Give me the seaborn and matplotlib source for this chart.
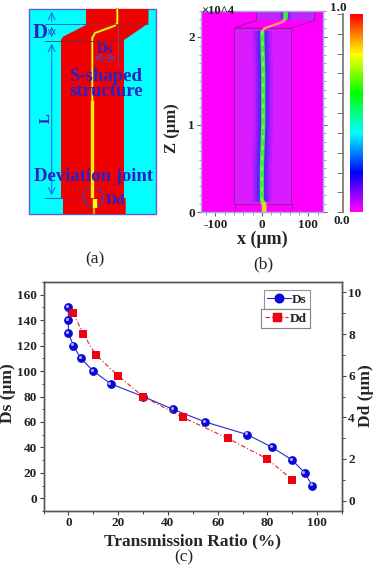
import numpy as np
import pandas as pd
import seaborn as sns
import matplotlib
matplotlib.use("Agg")
import matplotlib.pyplot as plt
from matplotlib.colors import LinearSegmentedColormap
from matplotlib.lines import Line2D
from matplotlib.patches import Polygon, Circle
from matplotlib.ticker import MultipleLocator
from matplotlib.transforms import ScaledTranslation

W, H = 378, 568

# panel (c) values
ds_ratio = [0, 0, 0, 2, 5, 10, 17, 30, 42, 55, 72, 82, 90, 95, 98]
ds_um = [150, 140, 130, 120, 110, 100, 90, 80, 70, 60, 50, 40, 30, 20, 10]
dd_ratio = [2, 6, 11, 20, 30, 46, 64, 80, 90]
dd_um = [9, 8, 7, 6, 5, 4, 3, 2, 1]

# panel (a) schematic outline, in picture pixels
clad_x = [86, 148.5, 148.5, 124, 124, 125.7, 125.7, 63, 63, 61, 61, 63, 86, 86]
clad_y = [9, 9, 23.3, 40, 198.3, 198.3, 214, 214, 198.3, 198.3, 40, 36.7, 25, 9]
core_x = [117.3, 117.3, 114, 95, 92.3, 92.3]
core_y = [9, 23.3, 26, 33, 38, 100]
core_low_x = [92.3, 92.3]
core_low_y = [100, 198]

# panel (b) simulated structure, x in um, z in 1e4 um
body_x = [-60, 63, 63, -60, -60]
body_z = [0.1, 0.1, 2.1, 2.1, 0.1]
top_x = [-60, 63, 113, 113, -12, -12, -60]
top_z = [2.1, 2.1, 2.19, 2.29, 2.29, 2.19, 2.1]
box_x = [-12, 113, 113, -12]
box_z = [2.19, 2.19, 2.29, 2.29]
foot_x = [-58, 65, 65, -58, -58]
foot_z = [0, 0, 0.1, 0.1, 0]
guide_x = [0, 0, 3, 3, 1, 1]
guide_z = [0.12, 0.5, 1.0, 1.6, 2.0, 2.07]
bend_x = [1, 6, 44, 50]
bend_z = [2.07, 2.1, 2.17, 2.2]
exit_x = [50, 51, 51]
exit_z = [2.2, 2.23, 2.3]
foot_guide_x = [1, 5, 5]
foot_guide_z = [0.12, 0.09, 0]

bar_colors = ["#ff00ff", "#0000ff", "#00ffff", "#00ff00", "#ffff00", "#ff0000"]
bar_stops = [0, 0.2, 0.4, 0.6, 0.8, 1]

sns.set_theme(style="ticks")
plt.rcParams["font.family"] = ["Liberation Serif", "DejaVu Serif"]
plt.rcParams["font.weight"] = "bold"
plt.rcParams["axes.unicode_minus"] = False

fig = plt.figure(figsize=(W / 100, H / 100), dpi=100)


def px_axes(left, top, right, bottom):
    return fig.add_axes([left / W, 1 - bottom / H, (right - left) / W, (bottom - top) / H])


# ---- panel (a) ----
bg = fig.add_axes([0, 0, 1, 1])
bg.set_xlim(0, W)
bg.set_ylim(H, 0)
bg.axis("off")
bg.add_patch(Polygon(list(zip([29, 155.7, 155.7, 29], [9, 9, 214, 214])),
                     fc="#00ffff", ec="#6a5acd", lw=1))
bg.add_patch(Polygon(list(zip(clad_x, clad_y)), fc="#f00000", ec="none"))
bg.plot(core_x, core_y, color="#c07010", lw=2, solid_joinstyle="round")
bg.plot(core_x, core_y, color="#ffff00", lw=1, solid_joinstyle="round")
bg.plot(core_low_x, core_low_y, color="#ffee00", lw=2.4, solid_capstyle="butt")
bg.plot([94.5, 94.5], [199, 208], color="#ffff00", lw=3.2, solid_capstyle="butt")
bg.plot([94, 94], [208, 214], color="#e0a020", lw=1.6, solid_capstyle="butt")
bg.plot([45, 86], [24, 24], color="#2060e0", lw=0.7)
bg.plot([86, 148], [24, 24], color="#803050", lw=0.5)
bg.plot([45, 123], [40.5, 40.5], color="#503060", lw=0.6)
bg.plot([45, 61], [198.3, 198.3], color="#2060e0", lw=0.8)
bg.plot([61, 125], [198.3, 198.3], color="#802060", lw=0.5)
bg.plot([117.5, 117.5], [25, 67], color="#804080", lw=0.7)
bg.annotate("", xy=(51.7, 9), xytext=(51.7, 24), arrowprops=dict(arrowstyle="->", color="#2060e0", lw=0.7))
bg.annotate("", xy=(51.7, 24), xytext=(51.7, 40), arrowprops=dict(arrowstyle="<->", color="#2060e0", lw=0.7))
bg.annotate("", xy=(51.7, 41), xytext=(51.7, 198), arrowprops=dict(arrowstyle="<->", color="#2060e0", lw=0.7))
bg.annotate("", xy=(91, 58), xytext=(119, 58), arrowprops=dict(arrowstyle="<->", color="#6040b0", lw=0.9))
bg.add_patch(Circle((93.5, 197), 10, fc="none", ec="#5040a0", lw=1))
blue = "#2a20c8"
bg.text(40, 33, "D", color=blue, fontsize=15, ha="center", va="center")
bg.text(105, 49.5, "Ds", color=blue, fontsize=10.5, ha="center", va="center")
bg.text(106, 76.5, "S-shaped", color=blue, fontsize=13.5, ha="center", va="center")
bg.text(106, 92, "structure", color=blue, fontsize=13.5, ha="center", va="center")
bg.text(94, 176.5, "Deviation joint", color=blue, fontsize=13.5, ha="center", va="center")
bg.text(115.5, 200.5, "Dd", color=blue, fontsize=11, ha="center", va="center", zorder=5)
bg.text(46, 118, "L", color=blue, fontsize=10.5, ha="center", va="center", rotation=90)
bg.text(95, 259, "(a)", color="#222222", fontsize=12.5, ha="center", va="center", fontweight="normal")
bg.text(263, 264, "(b)", color="#222222", fontsize=12.5, ha="center", va="center", fontweight="normal")
bg.text(184, 557, "(c)", color="#222222", fontsize=12.5, ha="center", va="center", fontweight="normal")

# ---- panel (b) ----
ax_b = px_axes(201.3, 10.7, 323.3, 212.3)
ax_b.set_facecolor("#ff00ff")
ax_b.set_xlim(-130, 132)
ax_b.set_ylim(0, 2.3)
ax_b.fill(body_x, body_z, fc="#d81cff", ec="none")
ax_b.fill(box_x, box_z, fc="#c028f8", ec="none")
ax_b.fill(top_x, top_z, fc="none", ec="#802080", lw=0.6)
ax_b.plot(body_x, body_z, color="#902090", lw=0.6)
ax_b.plot(foot_x, foot_z, color="#902090", lw=0.6)
# soft blue halo around the guide
for halo_lw, halo_a in [(14, 0.2), (10, 0.3), (7, 0.45)]:
    ax_b.plot(guide_x, guide_z, color="#3020ff", lw=halo_lw, alpha=halo_a, solid_capstyle="butt")
ax_b.plot(exit_x, exit_z, color="#3020ff", lw=8, alpha=0.4, solid_capstyle="butt")
ax_b.plot(guide_x, guide_z, color="#30f040", lw=3, solid_capstyle="butt")
ax_b.plot(guide_x, guide_z, color="#b0f040", lw=1.5, ls=(0, (2, 3)), alpha=0.8)
ax_b.plot(bend_x, bend_z, color="#ffa060", lw=1.6)
ax_b.plot(exit_x, exit_z, color="#40f040", lw=3.2, solid_capstyle="butt")
ax_b.plot(foot_guide_x, foot_guide_z, color="#d0e020", lw=3.4, solid_capstyle="butt")
ax_b.xaxis.set_major_locator(MultipleLocator(100))
ax_b.xaxis.set_minor_locator(MultipleLocator(20))
ax_b.yaxis.set_minor_locator(MultipleLocator(0.1))
ax_b.set_yticks([0, 1, 2])
ax_b.set_yticklabels(["0", "1", "2"])
ax_b.tick_params(which="major", length=3, width=0.8, color="#666666", labelsize=9.5, pad=1.5,
                 right=True, labelcolor="#222222")
ax_b.tick_params(which="minor", length=1.8, width=0.6, color="#888888", right=True)
for name in ax_b.spines:
    ax_b.spines[name].set_color("#a8a8e8")
    ax_b.spines[name].set_linewidth(1)
ax_b.set_xlabel("x (\u03bcm)", fontsize=13, labelpad=0, fontweight="bold")
ax_b.set_ylabel("Z (\u03bcm)", fontsize=12, fontweight="bold")
ax_b.yaxis.set_label_coords((180 - 201.3) / 122, 0.42)
ax_b.text(-130, 2.3, "\u00d710^4", fontsize=9, ha="left", va="center", color="#222222")

# colour bar, drawn as a one column heatmap
ax_cb = px_axes(349.7, 14, 363, 212.3)
cb_cmap = LinearSegmentedColormap.from_list("field", list(zip(bar_stops, bar_colors)))
cb_vals = pd.DataFrame(np.linspace(1, 0, 200))
sns.heatmap(cb_vals, ax=ax_cb, cmap=cb_cmap, vmin=0, vmax=1, cbar=False,
            xticklabels=False, yticklabels=False)
ax_sc = px_axes(343, 14, 344, 212.3)
ax_sc.patch.set_visible(False)
ax_sc.set_ylim(0, 1)
ax_sc.set_xticks([])
ax_sc.yaxis.set_major_locator(MultipleLocator(0.1))
ax_sc.set_yticklabels([])
ax_sc.tick_params(length=4, width=0.7, color="#777777")
for name in ["top", "right", "bottom"]:
    ax_sc.spines[name].set_visible(False)
ax_sc.spines["left"].set_color("#777777")
bg.text(338, 8, "1.0", fontsize=9.5, ha="center", va="center", color="#222222")
bg.text(342, 221, "0.0", fontsize=9.5, ha="center", va="center", color="#222222")

# ---- panel (c) ----
ax = px_axes(43.5, 282, 342, 511)
sns.lineplot(x=ds_ratio, y=ds_um, ax=ax, color="#2a2ad0", lw=0.8, sort=False, estimator=None)
ax.scatter(ds_ratio, ds_um, s=40, color="#0a0ad8", zorder=3, linewidths=0)
shift = ScaledTranslation(-1.2 / 100, 1.2 / 100, fig.dpi_scale_trans)
ax.scatter(ds_ratio, ds_um, s=5, color="#a8a8ff", zorder=4, linewidths=0,
           transform=ax.transData + shift)
ax.set_xlim(-10, 110)
ax.set_ylim(-10, 170)
ax.xaxis.set_major_locator(MultipleLocator(20))
ax.xaxis.set_minor_locator(MultipleLocator(10))
ax.yaxis.set_major_locator(MultipleLocator(20))
ax.yaxis.set_minor_locator(MultipleLocator(10))
ax.set_xlabel("Transmission Ratio (%)", fontsize=12.5, fontweight="bold")
ax.xaxis.set_label_coords(0.5, (511 - 541) / 229, transform=ax.transAxes)
ax.xaxis.label.set_va("center")
ax.set_ylabel("Ds (\u03bcm)", fontsize=12.5, fontweight="bold", va="center")
ax.yaxis.set_label_coords((8 - 43.5) / 298.5, 0.515)

ax2 = ax.twinx()
sns.lineplot(x=dd_ratio, y=dd_um, ax=ax2, color="#e02020", lw=0.8, sort=False, estimator=None,
             linestyle=(0, (4, 2, 1, 2)))
ax2.scatter(dd_ratio, dd_um, s=28, marker="s", color="#f00010", zorder=3, linewidths=0)
ax2.set_xlim(-10, 110)
ax2.set_ylim(-0.5, 10.5)
ax2.yaxis.set_major_locator(MultipleLocator(2))
ax2.yaxis.set_minor_locator(MultipleLocator(1))
ax2.set_ylabel("Dd (\u03bcm)", fontsize=12.5, fontweight="bold", va="center")
ax2.yaxis.set_label_coords((366 - 43.5) / 298.5, 0.505)

for a in [ax, ax2]:
    a.tick_params(which="major", length=3, width=0.8, color="#444444", labelsize=9.5, pad=1.5,
                  labelcolor="#222222")
    a.tick_params(which="minor", length=1.8, width=0.7, color="#444444")
    for name in a.spines:
        a.spines[name].set_color("#555555")
        a.spines[name].set_linewidth(1)

h_ds = Line2D([], [], color="#2a2ad0", lw=0.8, marker="o", ms=6.2, mfc="#0a0ad8", mec="#0a0ad8")
h_dd = Line2D([], [], color="#e02020", lw=0.8, ls=(0, (4, 2, 1, 2)), marker="s", ms=5.4,
              mfc="#f00010", mec="#f00010")
for handle, label, y_top in [(h_ds, "Ds", 0.965), (h_dd, "Dd", 0.882)]:
    leg = ax2.legend([handle], [label], loc="upper right", bbox_to_anchor=(0.893, y_top),
                     fontsize=9.5, frameon=True, fancybox=False, edgecolor="#777777",
                     borderpad=0.25, handlelength=1.8, handletextpad=0.1, borderaxespad=0)
    leg.get_frame().set_linewidth(0.8)
    ax2.add_artist(leg)

fig.savefig("out.png", dpi=100)
